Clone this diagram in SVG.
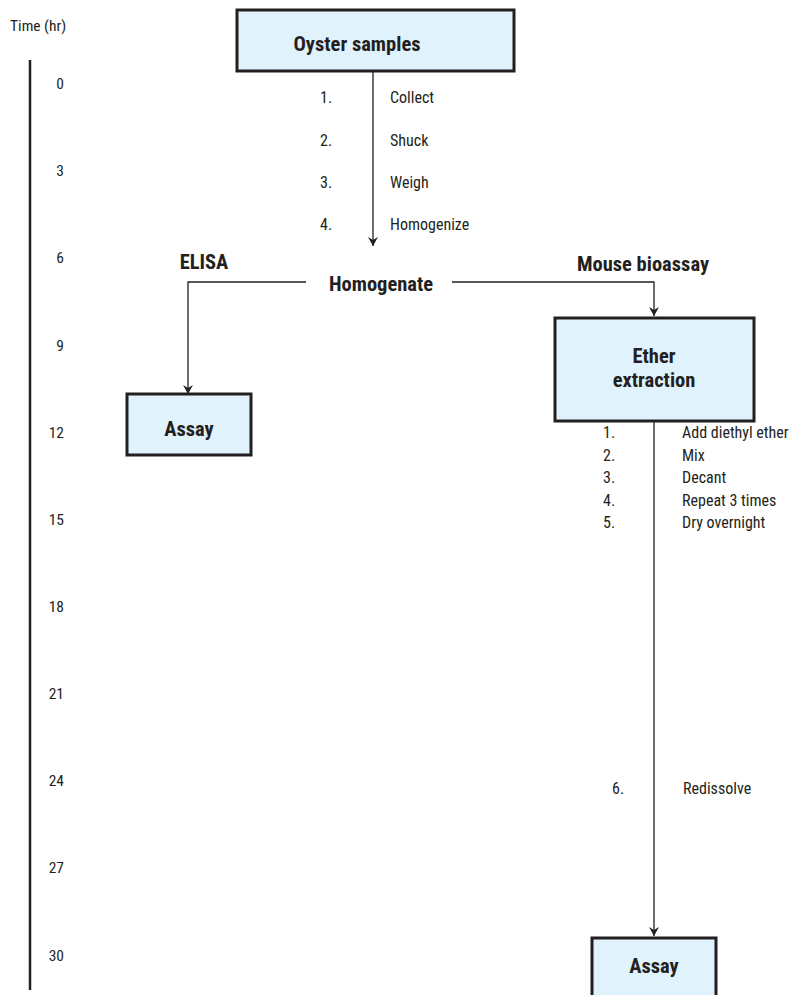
<svg xmlns="http://www.w3.org/2000/svg" width="793" height="995" viewBox="0 0 793 995">
<defs>
<marker id="arr" markerWidth="10" markerHeight="10" refX="9" refY="5" orient="auto" markerUnits="userSpaceOnUse">
<path d="M0,0 L9,5 L0,10 L3,5 Z" fill="#231f20"/>
</marker>
<style>
text{font-family:"Liberation Sans Narrow","Roboto Condensed","DejaVu Sans Condensed","Liberation Sans",sans-serif;fill:#231f20}
.s{font-size:16px}
.b{font-size:20.5px;font-weight:bold;text-anchor:middle}
.t{font-size:15.5px;text-anchor:end}
.box{fill:#e0f2fc;stroke:#231f20;stroke-width:3}
.ln{fill:none;stroke:#231f20;stroke-width:1.3}
</style>
</defs>
<rect width="793" height="995" fill="#fff"/>
<g id="axis">
<text x="10" y="31" style="font-size:15.5px">Time (hr)</text>
<line x1="30" y1="60" x2="30" y2="990" stroke="#231f20" stroke-width="2.5"/>
<text x="64" y="89" class="t">0</text>
<text x="64" y="176" class="t">3</text>
<text x="64" y="263" class="t">6</text>
<text x="64" y="351" class="t">9</text>
<text x="64" y="438" class="t">12</text>
<text x="64" y="525" class="t">15</text>
<text x="64" y="612" class="t">18</text>
<text x="64" y="699" class="t">21</text>
<text x="64" y="786" class="t">24</text>
<text x="64" y="873" class="t">27</text>
<text x="64" y="961" class="t">30</text>
</g>
<g id="connectors">
<line class="ln" x1="373" y1="71" x2="373" y2="246" marker-end="url(#arr)"/>
<polyline class="ln" points="306,282 188,282 188,394" marker-end="url(#arr)"/>
<polyline class="ln" points="452,282 654,282 654,316" marker-end="url(#arr)"/>
<line class="ln" x1="654" y1="421" x2="654" y2="936" marker-end="url(#arr)"/>
</g>
<g id="oyster">
<rect class="box" x="237" y="10" width="277" height="61"/>
<text x="357" y="51" class="b">Oyster samples</text>
</g>
<g id="steps1">
<text x="320" y="103" class="s">1.</text><text x="390" y="103" class="s">Collect</text>
<text x="320" y="146" class="s">2.</text><text x="390" y="146" class="s">Shuck</text>
<text x="320" y="188" class="s">3.</text><text x="390" y="188" class="s">Weigh</text>
<text x="320" y="230" class="s">4.</text><text x="390" y="230" class="s">Homogenize</text>
</g>
<g id="homogenate">
<text x="381" y="291" class="b">Homogenate</text>
</g>
<g id="elisa-label"><text x="204" y="269" class="b">ELISA</text></g>
<g id="mouse-label"><text x="643" y="271" class="b">Mouse bioassay</text></g>
<g id="assay1">
<rect class="box" x="127" y="394" width="124" height="61"/>
<text x="189" y="436" class="b">Assay</text>
</g>
<g id="ether">
<rect class="box" x="555" y="318" width="199" height="103"/>
<text x="654" y="363" class="b">Ether</text>
<text x="654" y="387" class="b">extraction</text>
</g>
<g id="steps2">
<text x="603" y="438" class="s">1.</text><text x="682" y="438" class="s">Add diethyl ether</text>
<text x="603" y="461" class="s">2.</text><text x="682" y="461" class="s">Mix</text>
<text x="603" y="483" class="s">3.</text><text x="682" y="483" class="s">Decant</text>
<text x="603" y="506" class="s">4.</text><text x="682" y="506" class="s">Repeat 3 times</text>
<text x="603" y="528" class="s">5.</text><text x="682" y="528" class="s">Dry overnight</text>
<text x="612" y="794" class="s">6.</text><text x="683" y="794" class="s">Redissolve</text>
</g>
<g id="assay2">
<rect class="box" x="592" y="938" width="124" height="70"/>
<text x="654" y="973" class="b">Assay</text>
</g>
</svg>
